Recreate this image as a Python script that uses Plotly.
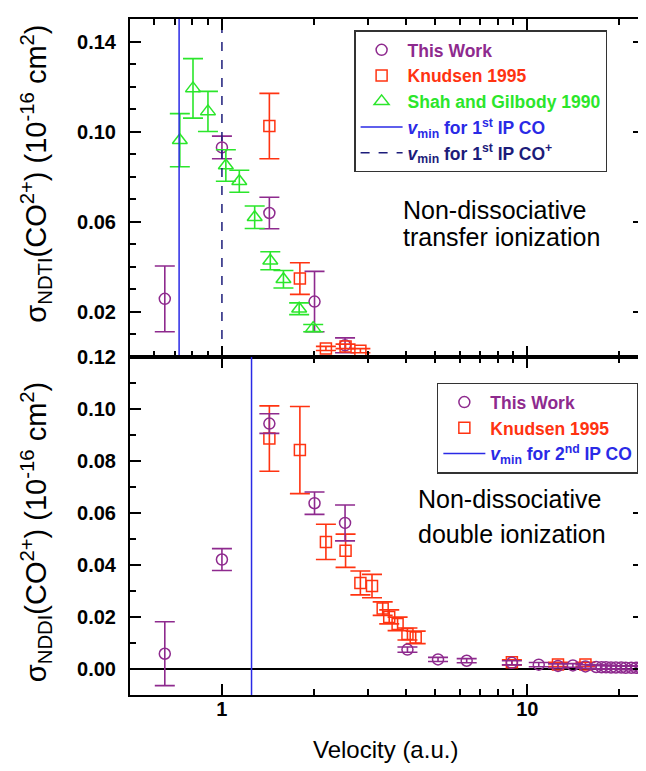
import plotly.graph_objects as go
import math

# ---------------- data ----------------
# Top panel: non-dissociative transfer ionization (NDTI)
tw_ndti_v = [0.65, 1.00, 1.43, 2.01, 2.53]
tw_ndti = [0.0258, 0.0930, 0.0639, 0.0246, 0.0052]
tw_ndti_err = [0.0146, 0.0050, 0.0070, 0.0134, 0.0033]

kn_ndti_v = [1.43, 1.80, 2.19, 2.54, 2.84]
kn_ndti = [0.1025, 0.0348, 0.0038, 0.0047, 0.0028]
kn_ndti_err = [0.0145, 0.0070, 0.0009, 0.0010, 0.0009]

sg_ndti_v = [0.728, 0.804, 0.90, 1.03, 1.14, 1.28, 1.44, 1.59, 1.79, 1.99]
sg_ndti = [0.0962, 0.1192, 0.1090, 0.0850, 0.0780, 0.0620, 0.0427, 0.0345, 0.0214, 0.0128]
sg_ndti_err = [0.0118, 0.0132, 0.0089, 0.0070, 0.0049, 0.0050, 0.0040, 0.0039, 0.0026, 0.0016]

# Bottom panel: non-dissociative double ionization (NDDI)
tw_nddi_v = [0.65, 1.00, 1.43, 2.01, 2.53, 4.05, 5.10, 6.33, 8.9, 10.9, 12.6, 14.1, 15.5,
             16.8, 17.5, 18.1, 18.8, 19.5, 20.3, 21.0, 21.9, 22.7, 23.5]
tw_nddi = [0.0057, 0.0420, 0.0944, 0.0637, 0.0561, 0.0073, 0.0035, 0.0030, 0.0022, 0.0015,
           0.0010, 0.0012, 0.0008, 0.0006, 0.0005, 0.0005, 0.0004, 0.0004, 0.0004, 0.0003,
           0.0003, 0.0003, 0.0003]
tw_nddi_err = [0.0123, 0.0042, 0.0038, 0.0043, 0.0069, 0.0010, 0.0008, 0.0008, 0.0008, 0.0008,
               0.0008, 0.0007, 0.0007, 0.0007, 0.0007, 0.0007, 0.0007, 0.0007, 0.0007, 0.0007,
               0.0007, 0.0007, 0.0007]

kn_nddi_v = [1.43, 1.80, 2.19, 2.54, 2.84, 3.10, 3.36, 3.53, 3.76, 4.05, 4.31, 8.9, 12.6, 15.5]
kn_nddi = [0.0886, 0.0842, 0.0488, 0.0454, 0.0330, 0.0318, 0.0231, 0.0199, 0.0172, 0.0133,
           0.0120, 0.0024, 0.0016, 0.0016]
kn_nddi_err = [0.0126, 0.0168, 0.0068, 0.0064, 0.0046, 0.0045, 0.0026, 0.0027, 0.0026, 0.0023,
               0.0024, 0.0010, 0.0008, 0.0008]

vmin_top_solid = 0.724   # v_min for 1st IP CO
vmin_top_dash = 1.00     # v_min for 1st IP CO+
vmin_bottom = 1.25       # v_min for 2nd IP CO

x_range = [0.5, 24.1]
top_y_range = [0.0, 0.1500]
bot_y_range = [-0.0102, 0.12005]

x_major = [1, 10]
x_major_text = ["1", "10"]
x_minor_top = [0.6, 0.7, 0.8, 0.9, 2, 3, 4, 5, 6, 7, 8, 9, 20]
x_minor_bot = [2, 3, 4, 5, 6, 7, 8, 9, 20]
top_y_major = [0.02, 0.06, 0.10, 0.14]
top_y_minor = [0.01, 0.03, 0.04, 0.05, 0.07, 0.08, 0.09, 0.11, 0.12, 0.13]
bot_y_major = [0.00, 0.02, 0.04, 0.06, 0.08, 0.10, 0.12]
bot_y_minor = [0.01, 0.03, 0.05, 0.07, 0.09, 0.11]

# ---------------- styles ----------------
PURPLE = "#8E2A8E"
RED = "#FF3311"
GREEN = "#2BE62B"
BLUE = "#2A2AE6"
NAVY = "#1C1C7A"
FONT = "Liberation Sans"


def err(arr, color):
    return dict(type="data", array=arr, visible=True, color=color, thickness=1.6, width=10)


def span(text, color):
    return '<span style="color:%s">%s</span>' % (color, text)


fig = go.Figure()

# Top panel traces
fig.add_trace(go.Scatter(x=tw_ndti_v, y=tw_ndti, mode="markers", xaxis="x", yaxis="y",
                         marker=dict(symbol="circle-open", size=11, color=PURPLE, line=dict(width=1.5)),
                         error_y=err(tw_ndti_err, PURPLE), name=span("This Work", PURPLE),
                         legend="legend"))
fig.add_trace(go.Scatter(x=kn_ndti_v, y=kn_ndti, mode="markers", xaxis="x", yaxis="y",
                         marker=dict(symbol="square-open", size=11, color=RED, line=dict(width=1.5)),
                         error_y=err(kn_ndti_err, RED), name=span("Knudsen 1995", RED),
                         legend="legend"))
fig.add_trace(go.Scatter(x=sg_ndti_v, y=sg_ndti, mode="markers", xaxis="x", yaxis="y",
                         marker=dict(symbol="triangle-up-open", size=13, color=GREEN, line=dict(width=1.5)),
                         error_y=err(sg_ndti_err, GREEN), name=span("Shah and Gilbody 1990", GREEN),
                         legend="legend"))
fig.add_trace(go.Scatter(x=[vmin_top_solid, vmin_top_solid], y=top_y_range, mode="lines",
                         xaxis="x", yaxis="y", line=dict(color=BLUE, width=1.5),
                         name=span("<i>v</i><sub>min</sub> for 1<sup>st</sup> IP CO", BLUE),
                         legend="legend"))
fig.add_trace(go.Scatter(x=[vmin_top_dash, vmin_top_dash], y=top_y_range, mode="lines",
                         xaxis="x", yaxis="y", line=dict(color=NAVY, width=1.5, dash="dash"),
                         name=span("<i>v</i><sub>min</sub> for 1<sup>st</sup> IP CO<sup>+</sup>", NAVY),
                         legend="legend"))

# Bottom panel traces
fig.add_trace(go.Scatter(x=[vmin_bottom, vmin_bottom], y=bot_y_range, mode="lines",
                         xaxis="x2", yaxis="y2", line=dict(color=BLUE, width=1.5),
                         name=span("<i>v</i><sub>min</sub> for 2<sup>nd</sup> IP CO", BLUE),
                         legend="legend2", legendrank=3))
fig.add_trace(go.Scatter(x=kn_nddi_v, y=kn_nddi, mode="markers", xaxis="x2", yaxis="y2",
                         marker=dict(symbol="square-open", size=11, color=RED, line=dict(width=1.5)),
                         error_y=err(kn_nddi_err, RED), name=span("Knudsen 1995", RED),
                         legend="legend2", legendrank=2))
fig.add_trace(go.Scatter(x=tw_nddi_v, y=tw_nddi, mode="markers", xaxis="x2", yaxis="y2",
                         marker=dict(symbol="circle-open", size=11, color=PURPLE, line=dict(width=1.5)),
                         error_y=err(tw_nddi_err, PURPLE), name=span("This Work", PURPLE),
                         legend="legend2", legendrank=1))

lx = [math.log10(x_range[0]), math.log10(x_range[1])]

axis_common = dict(type="log", range=lx, showline=True, linecolor="black", linewidth=2,
                   mirror="ticks", ticks="inside", ticklen=11, tickwidth=2, tickcolor="black",
                   tickmode="array", tickvals=x_major, ticktext=x_major_text,
                   showgrid=False, zeroline=False,
                   tickfont=dict(family=FONT, size=20, color="black", weight="bold"))

legend_font = dict(family=FONT, size=17.5, color="black", weight="bold")

fig.update_layout(
    width=638, height=763,
    margin=dict(l=122, r=0, t=6, b=76),
    plot_bgcolor="white", paper_bgcolor="white",
    showlegend=True,
    xaxis=dict(axis_common, anchor="y", showticklabels=False,
               minor=dict(tickmode="array", tickvals=x_minor_top, ticks="inside", ticklen=6,
                          tickwidth=1.5, tickcolor="black", showgrid=False)),
    xaxis2=dict(axis_common, anchor="y2", showticklabels=True, ticklabelstandoff=-5,
                minor=dict(tickmode="array", tickvals=x_minor_bot, ticks="inside", ticklen=6,
                           tickwidth=1.5, tickcolor="black", showgrid=False)),
    yaxis=dict(domain=[0.5, 1.0], range=top_y_range, anchor="x", showline=True, linecolor="black",
               linewidth=2, mirror="ticks", ticks="inside", ticklen=11, tickwidth=2, tickcolor="black",
               tickmode="array", tickvals=top_y_major, ticktext=["%.2f" % v for v in top_y_major],
               ticklabelstandoff=8, showgrid=False, zeroline=False,
               tickfont=dict(family=FONT, size=20, color="black", weight="bold"),
               minor=dict(tickmode="array", tickvals=top_y_minor, ticks="inside", ticklen=6,
                          tickwidth=1.5, tickcolor="black", showgrid=False)),
    yaxis2=dict(domain=[0.0, 0.5], range=bot_y_range, anchor="x2", showline=True, linecolor="black",
                linewidth=2, mirror="ticks", ticks="inside", ticklen=11, tickwidth=2, tickcolor="black",
                tickmode="array", tickvals=bot_y_major, ticktext=["%.2f" % v for v in bot_y_major],
                ticklabelstandoff=8, showgrid=False,
                zeroline=True, zerolinecolor="black", zerolinewidth=2,
                tickfont=dict(family=FONT, size=20, color="black", weight="bold"),
                minor=dict(tickmode="array", tickvals=bot_y_minor, ticks="inside", ticklen=6,
                           tickwidth=1.5, tickcolor="black", showgrid=False)),
    legend=dict(x=0.436, y=0.983, xanchor="left", yanchor="top", bgcolor="white",
                bordercolor="#333333", borderwidth=1.5, tracegroupgap=0, itemwidth=42,
                font=legend_font),
    legend2=dict(x=0.597, y=0.4620, xanchor="left", yanchor="top", bgcolor="white",
                 bordercolor="#333333", borderwidth=1.5, tracegroupgap=0, itemwidth=42,
                 font=legend_font),
)

ann_font = dict(family=FONT, size=25, color="black")
title_font = dict(family=FONT, size=29, color="black")
xtitle_font = dict(family=FONT, size=24, color="black")
fig.add_annotation(text="Non-dissociative", xref="paper", yref="paper", x=0.527, y=0.7170,
                   xanchor="left", yanchor="middle", showarrow=False, font=ann_font)
fig.add_annotation(text="transfer ionization", xref="paper", yref="paper", x=0.527, y=0.6775,
                   xanchor="left", yanchor="middle", showarrow=False, font=ann_font)
fig.add_annotation(text="Non-dissociative", xref="paper", yref="paper", x=0.5556, y=0.2905,
                   xanchor="left", yanchor="middle", showarrow=False, font=ann_font)
fig.add_annotation(text="double ionization", xref="paper", yref="paper", x=0.5556, y=0.2380,
                   xanchor="left", yanchor="middle", showarrow=False, font=ann_font)

fig.add_annotation(text="σ<sub>NDTI</sub>(CO<sup>2+</sup>) (10<sup>-16</sup> cm<sup>2</sup>)",
                   xref="paper", yref="paper", x=-0.183, y=0.7711, textangle=-90,
                   xanchor="center", yanchor="middle", showarrow=False, font=title_font)
fig.add_annotation(text="σ<sub>NDDI</sub>(CO<sup>2+</sup>) (10<sup>-16</sup> cm<sup>2</sup>)",
                   xref="paper", yref="paper", x=-0.183, y=0.2408, textangle=-90,
                   xanchor="center", yanchor="middle", showarrow=False, font=title_font)
fig.add_annotation(text="Velocity (a.u.)", xref="paper", yref="paper", x=0.497, y=-0.081,
                   xanchor="center", yanchor="middle", showarrow=False, font=xtitle_font)

fig.write_html("out.html")
